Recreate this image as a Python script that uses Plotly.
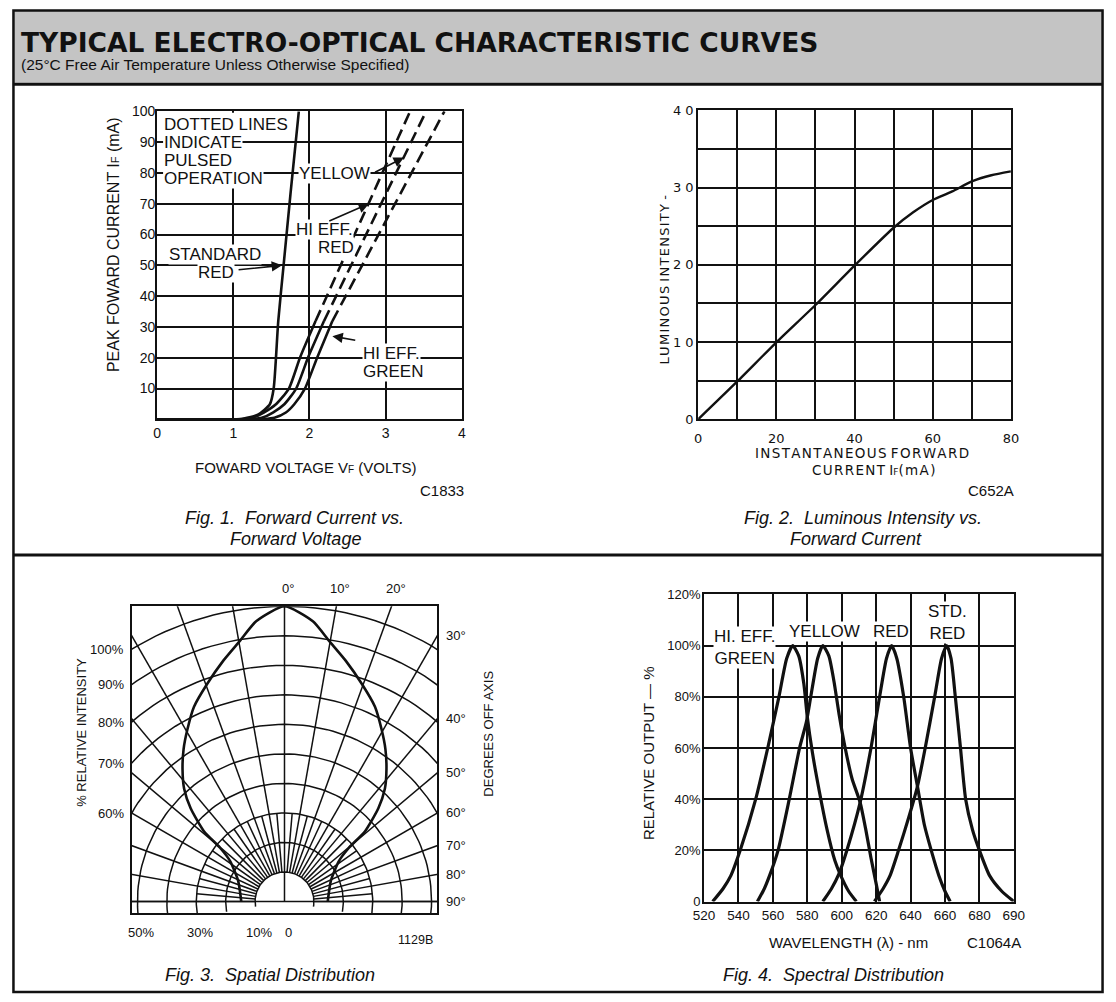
import math
import plotly.graph_objects as go

W, H = 1116, 1002

# ---------------- Fig. 1 : forward current vs forward voltage ----------------
STD_RED_V = [0.0, 1.0, 1.125, 1.33, 1.48, 1.53, 1.59, 1.66, 1.75, 1.86]
STD_RED_I = [0, 0, 0.2, 1.6, 4.9, 10, 31.9, 50, 73, 100]
HE_RED_V = [0.0, 1.0, 1.12, 1.25, 1.40, 1.56, 1.73, 1.875, 2.08]
HE_RED_I = [0, 0, 0.1, 0.5, 2.2, 4.9, 10, 20, 31.9]
HE_RED_PULSED_V = [2.08, 3.32]
HE_RED_PULSED_I = [31.9, 100]
YELLOW_V = [0.0, 1.1, 1.25, 1.375, 1.52, 1.67, 1.825, 1.98, 2.19]
YELLOW_I = [0, 0, 0.1, 0.5, 2.2, 4.9, 10, 20, 31.9]
YELLOW_PULSED_V = [2.19, 3.53]
YELLOW_PULSED_I = [31.9, 100]
HE_GREEN_V = [0.0, 1.2, 1.4, 1.54, 1.69, 1.80, 1.94, 2.10, 2.30]
HE_GREEN_I = [0, 0, 0.1, 0.5, 2.2, 4.9, 10, 20, 31.9]
HE_GREEN_PULSED_V = [2.30, 3.77]
HE_GREEN_PULSED_I = [31.9, 100]
F1_XTICKS = [0, 1, 2, 3, 4]
F1_YTICKS = [10, 20, 30, 40, 50, 60, 70, 80, 90, 100]

# ---------------- Fig. 2 : luminous intensity vs forward current ----------------
IF_MA = [0, 10, 20, 30, 40, 50, 55, 60, 65, 70, 75, 80]
LUM = [0, 4.9, 9.97, 14.8, 19.9, 24.8, 26.8, 28.4, 29.5, 30.8, 31.6, 32.1]
F2_XTICKS = [0, 10, 20, 30, 40, 50, 60, 70, 80]
F2_XTEXT = ["0", "", "20", "", "40", "", "60", "", "80"]
F2_YTICKS = [0, 5, 10, 15, 20, 25, 30, 35, 40]
F2_YTEXT = ["0", "", "1 0", "", "2 0", "", "3 0", "", "4 0"]

# ---------------- Fig. 3 : spatial distribution ----------------
SPATIAL_ANGLE = [0, 5.8, 9.8, 14.3, 19.6, 25, 29.6, 33.6, 37.7, 41.8, 45.3, 49, 50.3, 53.4, 65.8, 90]
SPATIAL_REL = [100, 95.4, 89.5, 84.2, 78.3, 72.8, 66.9, 62, 56.7, 51.2, 44.9, 36.3, 28.5, 23.1, 17.3, 14.7]
F3_RINGS = [10, 20, 30, 40, 50, 60, 70, 80, 90, 100]
F3_LEFT_LABELS = [100, 90, 80, 70, 60]
F3_RIGHT_LABELS = [30, 40, 50, 60, 70, 80, 90]
F3_TOP_LABELS = [0, 10, 20]
F3_BOTTOM_LABELS = [50, 30, 10, 0]

# ---------------- Fig. 4 : spectral distribution ----------------
GREEN_NM = [525, 531, 535.5, 541, 550, 557, 563.5, 568, 571.5, 575, 578, 580, 583, 587, 591.5, 596, 599.5, 604, 608.5]
GREEN_REL = [0, 5, 10, 20, 40, 60, 80, 95, 100, 96, 85, 72, 58, 43, 28, 16, 10, 4, 0]
YELLOW_NM = [551, 555, 558, 563, 569.5, 575.5, 579.4, 582, 586, 589, 592.5, 595.5, 598.5, 602, 606, 610.7, 614, 617, 620, 622]
YELLOW_REL = [0, 5, 10, 20, 40, 60, 70, 80, 95, 100, 96, 86, 73, 60, 48, 38.7, 28, 17, 7, 0]
RED_NM = [589, 594, 598.5, 603, 610.7, 617, 622, 626, 629, 632, 636, 640, 644, 648, 652, 656.5, 660, 663]
RED_REL = [0, 5, 11, 20, 38.7, 60, 80, 95, 100, 95, 80, 60, 45, 30, 20, 10, 4, 0]
STD_RED_NM = [619, 624, 628, 633, 639, 644, 648.5, 654, 658, 661, 663.5, 666, 669, 672, 676, 680, 686, 693, 700]
STD_RED_REL = [0, 5, 10, 20, 33, 45, 60, 80, 95, 100, 95, 80, 60, 40, 28, 20, 10, 4, 0]
F4_XTICKS = [520, 540, 560, 580, 600, 620, 640, 660, 680, 700]
F4_XTEXT = ["520", "540", "560", "580", "600", "620", "640", "660", "680", "690"]
F4_YTICKS = [0, 20, 40, 60, 80, 100, 120]
F4_YTEXT = ["0", "20%", "40%", "60%", "80%", "100%", "120%"]

BLACK = "#111111"
FONT = "Liberation Sans, Arial, Helvetica, sans-serif"
WIDE = "DejaVu Sans, Verdana, sans-serif"
HAIR = "\u200a"


def PX(x):
    return x / W


def PY(y):
    return 1 - y / H


def spaced(s):
    out = []
    for i, ch in enumerate(s):
        out.append(ch)
        if i < len(s) - 1 and ch != " " and s[i + 1] != " ":
            out.append(HAIR)
    return "".join(out)


fig = go.Figure()


def line(x, y, xa, ya, width=2.6, dash="solid", shape="spline"):
    fig.add_trace(go.Scatter(x=x, y=y, xaxis=xa, yaxis=ya, mode="lines",
                             line=dict(color=BLACK, width=width, dash=dash, shape=shape,
                                       smoothing=0.6),
                             hoverinfo="skip", showlegend=False))


# ---- Fig 1 traces
line(STD_RED_V, STD_RED_I, "x", "y")
line(HE_RED_V, HE_RED_I, "x", "y")
line(YELLOW_V, YELLOW_I, "x", "y")
line(HE_GREEN_V, HE_GREEN_I, "x", "y")
for vx, iy in [(HE_RED_PULSED_V, HE_RED_PULSED_I), (YELLOW_PULSED_V, YELLOW_PULSED_I),
               (HE_GREEN_PULSED_V, HE_GREEN_PULSED_I)]:
    line(vx, iy, "x", "y", dash="12px,6px", shape="linear")

# ---- Fig 2 trace
line(IF_MA, LUM, "x2", "y2", width=2.4)

# ---- Fig 3 grid + curve (polar values mapped onto a square box)
gx, gy = [], []
for r in F3_RINGS:
    for k in range(-100, 101, 2):
        a = math.radians(k)
        gx.append(r * math.sin(a))
        gy.append(r * math.cos(a))
    gx.append(None)
    gy.append(None)
for k in range(-90, 91, 10):
    a = math.radians(k)
    r0 = 0 if k == 0 else 10
    gx += [r0 * math.sin(a), 200 * math.sin(a), None]
    gy += [r0 * math.cos(a), 200 * math.cos(a), None]
for k in range(-85, 86, 10):
    a = math.radians(k)
    gx += [10 * math.sin(a), 30 * math.sin(a), None]
    gy += [10 * math.cos(a), 30 * math.cos(a), None]
gx += [-60, 60]
gy += [0, 0]
fig.add_trace(go.Scatter(x=gx, y=gy, xaxis="x3", yaxis="y3", mode="lines",
                         line=dict(color=BLACK, width=1.5), hoverinfo="skip", showlegend=False))

ang = [-a for a in SPATIAL_ANGLE[::-1]] + SPATIAL_ANGLE[1:]
rel = SPATIAL_REL[::-1] + SPATIAL_REL[1:]
cx = [r * math.sin(math.radians(a)) for a, r in zip(ang, rel)]
cy = [r * math.cos(math.radians(a)) for a, r in zip(ang, rel)]
line(cx, cy, "x3", "y3", width=2.6)

# ---- Fig 4 traces
for xs, ys in [(GREEN_NM, GREEN_REL), (YELLOW_NM, YELLOW_REL), (RED_NM, RED_REL),
               (STD_RED_NM, STD_RED_REL)]:
    line(xs, ys, "x4", "y4", width=3.2)

# ---- axes
common = dict(showline=True, linecolor=BLACK, linewidth=2, mirror=True, ticks="",
              showgrid=True, gridcolor=BLACK, gridwidth=2, zeroline=False, fixedrange=True)

fig.update_layout(
    xaxis=dict(common, domain=[PX(149), PX(460)], anchor="y", range=[0, 4],
               tickvals=F1_XTICKS, tickfont=dict(family=FONT, size=14, color=BLACK)),
    yaxis=dict(common, domain=[PY(418), PY(105)], anchor="x", range=[0, 100],
               tickvals=F1_YTICKS, tickfont=dict(family=FONT, size=14, color=BLACK),
               ticklabelstandoff=-3),
    xaxis2=dict(common, domain=[PX(701), PX(1020)], anchor="y2", range=[0, 80],
                tickvals=F2_XTICKS, ticktext=F2_XTEXT, ticklabelstandoff=6,
                tickfont=dict(family=WIDE, size=13, color=BLACK)),
    yaxis2=dict(common, domain=[PY(418), PY(104)], anchor="x2", range=[0, 40],
                tickvals=F2_YTICKS, ticktext=F2_YTEXT, ticklabelstandoff=0,
                tickfont=dict(family=WIDE, size=13, color=BLACK)),
    xaxis3=dict(showline=True, linecolor=BLACK, linewidth=1.8, mirror=True, ticks="",
                showgrid=False, zeroline=False, showticklabels=False, fixedrange=True,
                domain=[PX(123), PX(435)], anchor="y3", range=[-52, 52]),
    yaxis3=dict(showline=True, linecolor=BLACK, linewidth=1.8, mirror=True, ticks="",
                showgrid=False, zeroline=False, showticklabels=False, fixedrange=True,
                domain=[PY(920), PY(608)], anchor="x3", range=[-4, 100]),
    xaxis4=dict(common, domain=[PX(707), PX(1023)], anchor="y4", range=[520, 700],
                tickvals=F4_XTICKS, ticktext=F4_XTEXT,
                tickfont=dict(family=FONT, size=13.5, color=BLACK)),
    yaxis4=dict(common, domain=[PY(908), PY(596)], anchor="x4", range=[0, 120],
                tickvals=F4_YTICKS, ticktext=F4_YTEXT, ticklabelstandoff=-1,
                tickfont=dict(family=FONT, size=13, color=BLACK)),
)

ann = []


def text(x, y, s, size=15, family=FONT, xanchor="center", yanchor="middle", bg=None,
         angle=0, italic=False, bold=False, xref="paper", yref="paper", xshift=0, yshift=0,
         align="left"):
    d = dict(x=x, y=y, text=s, showarrow=False, xref=xref, yref=yref,
             xanchor=xanchor, yanchor=yanchor, textangle=angle, align=align,
             xshift=xshift, yshift=yshift,
             font=dict(family=family, size=size, color=BLACK,
                       style="italic" if italic else "normal",
                       weight="bold" if bold else "normal"))
    if bg:
        d["bgcolor"] = bg
        d["borderpad"] = 0
    ann.append(d)


def arrow(tip, tail):
    ann.append(dict(x=tip[0], y=tip[1], ax=tail[0], ay=tail[1], xref="x", yref="y",
                    axref="x", ayref="y", text="", showarrow=True, arrowhead=2,
                    arrowsize=1.3, arrowwidth=1.6, arrowcolor=BLACK, standoff=0))


# header
text(PX(8), PY(35), "TYPICAL ELECTRO-OPTICAL CHARACTERISTIC CURVES", size=26.5, family=WIDE,
     xanchor="left", bold=True)
text(PX(8), PY(57), "(25°C Free Air Temperature Unless Otherwise Specified)", size=15.5,
     xanchor="left")

# Fig 1 labels
for s, yy in [("DOTTED LINES", 118), ("INDICATE", 137), ("PULSED", 155), ("OPERATION", 173)]:
    text(PX(155), PY(yy), s, size=17, xanchor="left", bg="white")
text(PX(160), PY(251), "STANDARD", size=17, xanchor="left", bg="white")
text(PX(190), PY(269), "RED", size=17, xanchor="left", bg="white")
text(PX(293), PY(168), "YELLOW", size=17, xanchor="left", bg="white")
text(PX(290), PY(225), "HI EFF.", size=17, xanchor="left", bg="white")
text(PX(312), PY(243), "RED", size=17, xanchor="left", bg="white")
text(PX(358), PY(351), "HI EFF.", size=17, xanchor="left", bg="white")
text(PX(358), PY(369.5), "GREEN", size=17, xanchor="left", bg="white")
arrow((1.64, 50), (1.05, 48.5))
arrow((3.24, 85), (2.84, 80))
arrow((2.78, 70), (2.24, 64.2))
arrow((2.30, 27), (2.62, 25.6))
text(PX(104), PY(240), "PEAK FOWARD CURRENT I<span style='font-size:11px'>F</span> (mA)",
     size=16, angle=-90)
text(PX(300), PY(467), "FOWARD VOLTAGE V<span style='font-size:10px'>F</span> (VOLTS)",
     size=15)
text(PX(440), PY(490), "C1833", size=15)
text(PX(175), PY(518), "Fig. 1.  Forward Current vs.", size=18,
     xanchor="left", italic=True)
text(PX(221), PY(540), "Forward Voltage", size=18, xanchor="left", italic=True)

# Fig 2 labels
text(PX(667), PY(276), spaced("LUMINOUS INTENSITY -"), size=13, family=WIDE, angle=-90)
text(PX(868), PY(452), spaced("INSTANTANEOUS FORWARD"), size=13.5, family=WIDE)
text(PX(880), PY(470), spaced("CURRENT I") + "<span style='font-size:9px'>F</span>" +
     spaced("(mA)"), size=13.5, family=WIDE)
text(PX(1000), PY(490), "C652A", size=15)
text(PX(746), PY(518), "Fig. 2.  Luminous Intensity vs.", size=18,
     xanchor="left", italic=True)
text(PX(793), PY(540), "Forward Current", size=18, xanchor="left", italic=True)

# Fig 3 labels
for d in F3_TOP_LABELS:
    text(100 * math.tan(math.radians(d)), 100, f"{d}°", size=13, xref="x3", yref="y3",
         yshift=18, xshift=4)
for d in F3_RIGHT_LABELS:
    text(52, 52 / math.tan(math.radians(d)) if d < 90 else 0, f"{d}°", size=13,
         xref="x3", yref="y3", xanchor="left", xshift=7)
for p in F3_LEFT_LABELS:
    text(-52, math.sqrt(p * p - 52 * 52), f"{p}%", size=13, xref="x3", yref="y3",
         xanchor="right", xshift=-6)
for p in F3_BOTTOM_LABELS:
    text(-p, -4, f"{p}%" if p else "0", size=13, xref="x3", yref="y3",
         yanchor="top", yshift=-10, xshift=4)
text(PX(413), PY(947), "1129B", size=12.5)
text(PX(72), PY(736), "% RELATIVE INTENSITY", size=13, angle=-90)
text(PX(487), PY(737), "DEGREES OFF AXIS", size=13, angle=-90)
text(PX(155), PY(983), "Fig. 3.  Spatial Distribution", size=18,
     xanchor="left", italic=True)

# Fig 4 labels
text(PX(748), PY(650), "HI. EFF.<br>GREEN", size=17, bg="white", align="center")
text(PX(830), PY(634), "YELLOW", size=17, bg="white")
text(PX(898), PY(634), "RED", size=17, bg="white")
text(PX(955), PY(624), "STD.<br>RED", size=17, bg="white", align="center")
text(PX(651), PY(757), "RELATIVE OUTPUT — %", size=15, angle=-90)
text(PX(854), PY(950), "WAVELENGTH (λ) - nm", size=15)
text(PX(1003), PY(950), "C1064A", size=15)
text(PX(724), PY(983), "Fig. 4.  Spectral Distribution", size=18,
     xanchor="left", italic=True)

shapes = [
    dict(type="rect", xref="paper", yref="paper", x0=PX(3), x1=PX(1113), y0=PY(76), y1=PY(3),
         fillcolor="#c4c4c4", line=dict(width=0), layer="below"),
    dict(type="rect", xref="paper", yref="paper", x0=PX(2.5), x1=PX(1113.5), y0=PY(1000),
         y1=PY(2.5), line=dict(color=BLACK, width=2.5)),
    dict(type="line", xref="paper", yref="paper", x0=PX(2), x1=PX(1114), y0=PY(77.5),
         y1=PY(77.5), line=dict(color=BLACK, width=3)),
    dict(type="line", xref="paper", yref="paper", x0=PX(2), x1=PX(1114), y0=PY(556),
         y1=PY(556), line=dict(color=BLACK, width=3)),
    # white block behind the "pulsed" note in fig 1
    dict(type="rect", xref="x", yref="y", x0=0.08, x1=1.08, y0=77, y1=99.5,
         fillcolor="white", line=dict(width=0), layer="between"),
]

fig.update_layout(width=W, height=H, margin=dict(l=0, r=0, t=0, b=0),
                  paper_bgcolor="white", plot_bgcolor="white", showlegend=False,
                  annotations=ann, shapes=shapes, hovermode=False)

PIN = ("var d=document.getElementById('{plot_id}');"
       "document.documentElement.style.margin='0';document.body.style.margin='0';"
       "document.documentElement.style.overflow='hidden';"
       "d.style.position='fixed';d.style.left='0px';d.style.top='0px';")
fig.write_html("out.html", config={"displayModeBar": False}, post_script=PIN)
